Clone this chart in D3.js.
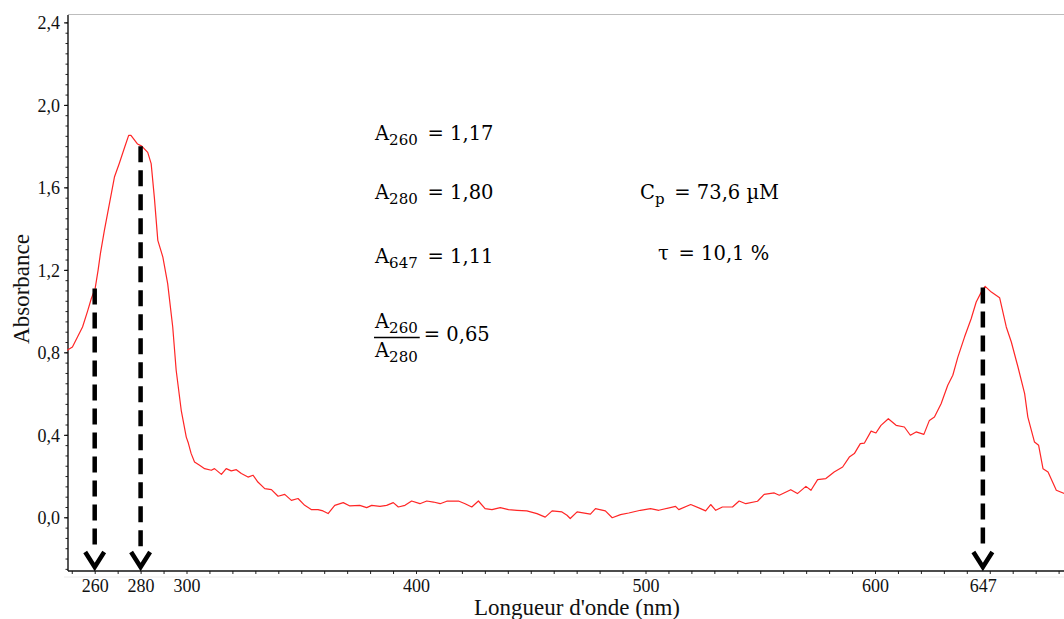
<!DOCTYPE html>
<html><head><meta charset="utf-8">
<script src="https://cdn.jsdelivr.net/npm/d3@7"></script>
<style>body{margin:0;background:#fff;} svg{display:block;}</style>
</head><body><svg id="c" width="1064" height="619"></svg>
<script>
// ---- data ----
const wavelengths = [248,250.3,252.5,254.7,256.9,258.5,260.2,261.5,262.5,264.2,266.4,268.6,270.7,272.9,274.8,275.8,278.7,280.5,283.1,284.6,286,287.5,289.7,291.8,294,295.5,297.7,299.9,300.8,302,303.5,305.7,307.9,310.8,312.2,315.2,317.3,319.5,321.7,323.9,326.8,329,331.1,334.1,337,339.9,342.8,345.7,348.6,351.5,354.5,357.3,359.5,361.7,364.6,368.3,371.2,375.5,378.5,380.7,384.3,387.2,390.1,392.3,395.2,398.1,401.7,404.7,407.6,410.5,413.4,418.5,421.4,424.3,427.2,430.1,433.1,436.7,440.3,444,448.3,452.7,456.3,459.3,463.6,465.8,467.2,470.2,476,478.2,482.5,485.5,489.1,492.7,497.8,502.2,505.8,513.1,514.5,519.7,524,526.2,528.4,530.6,533.5,537.9,540.8,543.7,548.8,551.7,556.1,558.3,563.3,566.2,569.9,572.1,575,578.6,582.2,585.9,588.8,591,593.6,595.4,598.3,600.4,602.6,605.8,609.2,612.8,615.4,617.9,621.3,623.7,625.9,628.8,631.7,633.9,636.1,639,641.9,644.1,646.3,648,650.7,654.3,657.2,659.4,662.3,665.2,666.6,669.5,671.3,673.2,675.4,679,682.7,686];
const absorbance = [0.81,0.826,0.874,0.923,1.0,1.06,1.11,1.2,1.28,1.39,1.52,1.65,1.716,1.79,1.852,1.852,1.81,1.80,1.77,1.715,1.55,1.343,1.262,1.133,0.923,0.713,0.519,0.389,0.36,0.31,0.268,0.252,0.236,0.228,0.236,0.208,0.236,0.225,0.231,0.212,0.195,0.204,0.171,0.139,0.134,0.102,0.111,0.082,0.091,0.058,0.037,0.037,0.031,0.018,0.058,0.071,0.055,0.058,0.047,0.058,0.053,0.058,0.071,0.050,0.058,0.079,0.066,0.079,0.074,0.066,0.078,0.079,0.066,0.050,0.079,0.042,0.037,0.047,0.037,0.034,0.031,0.018,0.001,0.031,0.026,0.010,-0.006,0.026,0.015,0.042,0.031,-0.002,0.013,0.021,0.034,0.042,0.034,0.053,0.037,0.062,0.042,0.031,0.062,0.034,0.050,0.050,0.079,0.066,0.078,0.111,0.118,0.107,0.134,0.115,0.150,0.131,0.183,0.188,0.22,0.244,0.292,0.309,0.357,0.36,0.418,0.409,0.446,0.478,0.446,0.438,0.398,0.414,0.402,0.47,0.486,0.551,0.64,0.689,0.777,0.874,0.963,1.044,1.092,1.12,1.092,1.065,0.923,0.85,0.729,0.60,0.486,0.365,0.349,0.236,0.22,0.131,0.115,0.11];

const xLabelValues = [260, 280, 300, 400, 500, 600, 647];
const xMinorTicks = d3.range(250, 690, 10);
const yLabelValues = [0, 0.4, 0.8, 1.2, 1.6, 2.0, 2.4];
const yMinorTicks = d3.range(-0.25, 2.41, 0.05);
const markerWavelengths = [260, 280, 647];
const markerAbsorbance = [1.11, 1.80, 1.115];

const xTitle = "Longueur d'onde (nm)";
const yTitle = "Absorbance";

// ---- layout ----
const svg = d3.select("#c");
const W = 1064, H = 619;
const axisX = 68, axisY = 571, topY = 15;

const x = d3.scaleLinear().domain([400, 600]).range([416, 875]);
const y = d3.scaleLinear().domain([0, 2.4]).range([517.3, 22.4]);
const fmt = v => d3.format(".1f")(v).replace(".", ",");

// frame top line
svg.append("line").attr("x1", axisX).attr("x2", W).attr("y1", 14.5).attr("y2", 14.5)
  .attr("stroke", "#bdbdbd").attr("stroke-width", 1.2);
// faint line below the x axis
svg.append("line").attr("x1", axisX - 4).attr("x2", W).attr("y1", 577).attr("y2", 577)
  .attr("stroke", "#ececec").attr("stroke-width", 1);

// y axis
const gy = svg.append("g").attr("transform", `translate(${axisX},0)`);
gy.call(d3.axisLeft(y).tickValues(yMinorTicks).tickSize(2.5).tickFormat(""))
  .call(g => g.select(".domain").remove());
gy.selectAll(".tick line").attr("stroke", "#222");
const gyMaj = svg.append("g").attr("transform", `translate(${axisX},0)`)
  .call(d3.axisLeft(y).tickValues(yLabelValues).tickSize(4).tickPadding(4).tickFormat(fmt));
gyMaj.select(".domain").remove();
gyMaj.selectAll(".tick text").attr("font-family", "'Liberation Serif', serif").attr("font-size", 18)
  .attr("fill", "#111").attr("dy", "0.36em");
svg.append("line").attr("x1", axisX).attr("x2", axisX).attr("y1", topY).attr("y2", axisY)
  .attr("stroke", "#111").attr("stroke-width", 1.4);

// x axis
const gx = svg.append("g").attr("transform", `translate(0,${axisY})`)
  .call(d3.axisBottom(x).tickValues(xMinorTicks).tickSize(3).tickFormat(""));
gx.select(".domain").remove();
gx.selectAll(".tick line").attr("stroke", "#222");
const gxl = svg.append("g").attr("transform", `translate(0,${axisY})`)
  .call(d3.axisBottom(x).tickValues(xLabelValues).tickSize(0).tickPadding(8).tickFormat(d3.format("d")));
gxl.select(".domain").remove();
gxl.selectAll(".tick text").attr("font-family", "'Liberation Serif', serif").attr("font-size", 18).attr("fill", "#111");
svg.append("line").attr("x1", axisX).attr("x2", W).attr("y1", axisY).attr("y2", axisY)
  .attr("stroke", "#111").attr("stroke-width", 1.4);

// titles
svg.append("text").attr("x", 577).attr("y", 615).attr("text-anchor", "middle")
  .attr("font-family", "'Liberation Serif', serif").attr("font-size", 23).attr("fill", "#111").text(xTitle);
svg.append("text").attr("transform", "translate(29,289) rotate(-90)").attr("text-anchor", "middle")
  .attr("font-family", "'Liberation Serif', serif").attr("font-size", 23).attr("fill", "#111").text(yTitle);

// curve
const line = d3.line().x((d, i) => x(wavelengths[i])).y(d => y(d));
svg.append("path").datum(absorbance).attr("d", line)
  .attr("fill", "none").attr("stroke", "#ff2626").attr("stroke-width", 1.2).attr("stroke-linejoin", "round");

// dashed markers with arrowheads
markerWavelengths.forEach((w, i) => {
  const cx = x(w);
  svg.append("line").attr("x1", cx).attr("x2", cx).attr("y1", y(markerAbsorbance[i])).attr("y2", axisY - 22)
    .attr("stroke", "#000").attr("stroke-width", 4.5).attr("stroke-dasharray", "16,8");
  svg.append("path").attr("d", `M${cx - 9.5},${axisY - 19} L${cx},${axisY - 4} L${cx + 9.5},${axisY - 19}`)
    .attr("fill", "none").attr("stroke", "#000").attr("stroke-width", 4.5).attr("stroke-linejoin", "miter");
});

// annotations
const af = "'DejaVu Serif', serif";
const FS = 19.5, SFS = 15;
function eq(xp, yp, base, sub, rest) {
  const t = svg.append("text").attr("x", xp).attr("y", yp).attr("font-family", af).attr("font-size", FS).attr("fill", "#000");
  t.append("tspan").text(base);
  t.append("tspan").attr("font-size", SFS).attr("dy", 4.5).text(sub);
  if (rest) t.append("tspan").attr("dy", -4.5).text(rest);
  return t;
}
eq(375, 140, "A", "260", "\u2002= 1,17");
eq(375, 199, "A", "280", "\u2002= 1,80");
eq(375, 263, "A", "647", "\u2002= 1,11");
const num = eq(375, 328, "A", "260", "");
eq(375, 357, "A", "280", "");
const nw = num.node().getComputedTextLength();
svg.append("line").attr("x1", 374).attr("x2", 375 + nw + 2).attr("y1", 337.5).attr("y2", 337.5).attr("stroke", "#000").attr("stroke-width", 1.3);
svg.append("text").attr("x", 375 + nw + 6).attr("y", 341).attr("font-family", af).attr("font-size", FS).text("= 0,65");
eq(640, 199, "C", "p", "\u2002= 73,6 µM");
svg.append("text").attr("x", 658).attr("y", 260).attr("font-family", af).attr("font-size", FS).text("τ\u2002= 10,1 %");
</script></body></html>
